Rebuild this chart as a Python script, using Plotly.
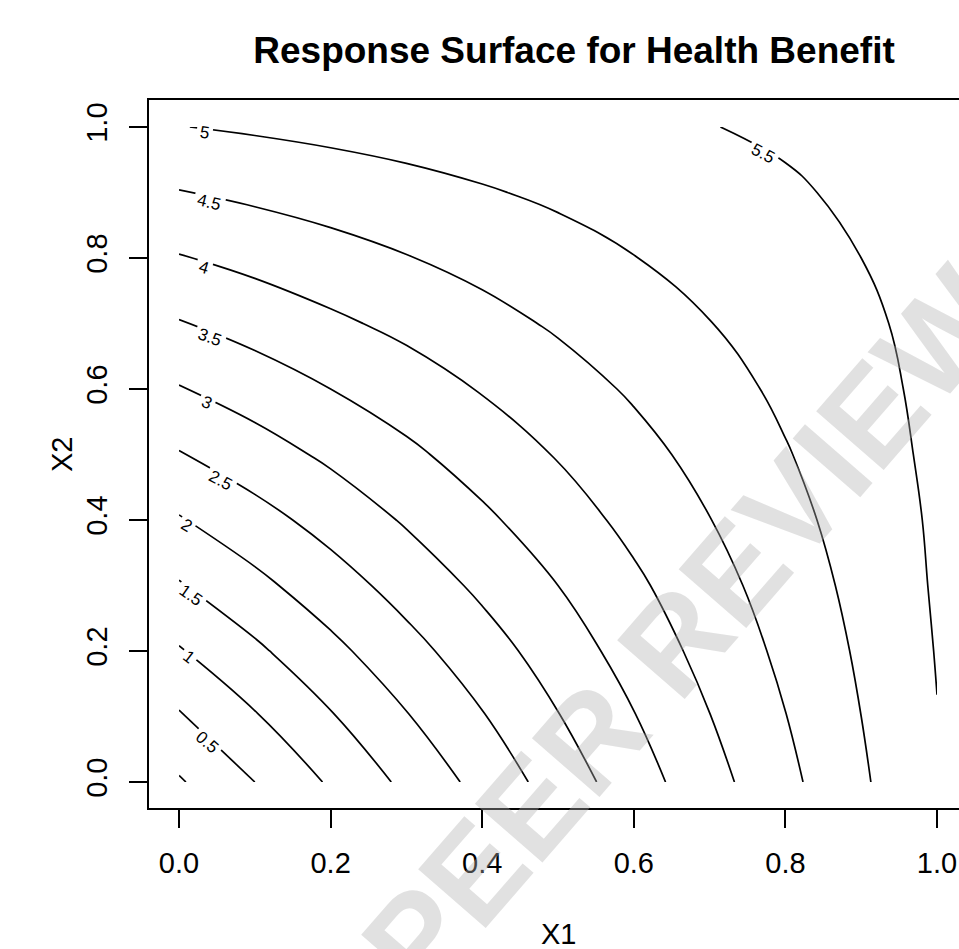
import plotly.graph_objects as go

# grid coordinates (X1 across, X2 down the rows)
x1_vals = [0.0, 0.1, 0.2, 0.3, 0.4, 0.5, 0.6, 0.7, 0.8, 0.9, 1.0]
x2_vals = [0.0, 0.1, 0.2, 0.3, 0.4, 0.5, 0.6, 0.7, 0.8, 0.9, 1.0]

# estimated response (Health Benefit); one row per X2 value
z_x2_00 = [-0.05, 0.50, 1.06, 1.61, 2.16, 2.72, 3.27, 3.82, 4.37, 4.93, 5.48]
z_x2_01 = [0.45, 0.96, 1.46, 1.97, 2.47, 2.98, 3.48, 3.99, 4.49, 5.00, 5.49]
z_x2_02 = [0.96, 1.41, 1.87, 2.33, 2.78, 3.24, 3.70, 4.16, 4.61, 5.07, 5.52]
z_x2_03 = [1.46, 1.87, 2.28, 2.69, 3.10, 3.50, 3.91, 4.32, 4.73, 5.14, 5.55]
z_x2_04 = [1.96, 2.32, 2.68, 3.05, 3.41, 3.77, 4.13, 4.49, 4.85, 5.21, 5.57]
z_x2_05 = [2.47, 2.78, 3.09, 3.40, 3.72, 4.03, 4.34, 4.66, 4.97, 5.28, 5.60]
z_x2_06 = [2.97, 3.23, 3.50, 3.76, 4.03, 4.29, 4.56, 4.82, 5.09, 5.35, 5.62]
z_x2_07 = [3.47, 3.69, 3.91, 4.12, 4.34, 4.56, 4.77, 4.99, 5.21, 5.42, 5.64]
z_x2_08 = [3.97, 4.14, 4.31, 4.48, 4.65, 4.82, 4.99, 5.16, 5.33, 5.50, 5.66]
z_x2_09 = [4.48, 4.60, 4.72, 4.84, 4.96, 5.08, 5.20, 5.32, 5.45, 5.57, 5.69]
z_x2_10 = [4.99, 5.06, 5.13, 5.20, 5.27, 5.35, 5.42, 5.49, 5.56, 5.64, 5.71]

# contour levels that carry an in-line label
label_levels = ["5", "4.5", "4", "3.5", "3", "2.5", "2", "1.5", "1", "0.5", "5.5"]

tick_vals = [0.0, 0.2, 0.4, 0.6, 0.8, 1.0]
tick_text = ["0.0", "0.2", "0.4", "0.6", "0.8", "1.0"]

title_text = "Response Surface for Health Benefit"
x_title = "X1"
y_title = "X2"
watermark_text = "PEER REVIEW"

z_grid = [z_x2_00, z_x2_01, z_x2_02, z_x2_03, z_x2_04, z_x2_05,
          z_x2_06, z_x2_07, z_x2_08, z_x2_09, z_x2_10]

# where each label sits on its line (R puts them near the line start), and its tilt
label_pos = [(0.033, 0.991, 8), (0.040, 0.884, 14), (0.032, 0.785, 17), (0.041, 0.679, 20),
             (0.036, 0.579, 24), (0.055, 0.461, 28), (0.010, 0.392, 31), (0.016, 0.285, 35),
             (0.012, 0.191, 38), (0.037, 0.060, 41), (0.770, 0.959, 28)]

FONT = "Liberation Sans, Arial, Helvetica, sans-serif"

fig = go.Figure()
fig.add_trace(go.Contour(
    x=x1_vals, y=x2_vals, z=z_grid,
    contours=dict(start=0, end=5.5, size=0.5, coloring="lines", showlabels=False),
    colorscale=[[0, "black"], [1, "black"]],
    showscale=False,
    line=dict(width=1.7, smoothing=1.2),
    hoverinfo="skip",
))

W, H = 959, 949
L, R, T, B = 149, 0, 100, 141
PW, PH = W - L - R, H - T - B

axis_common = dict(
    showgrid=False, zeroline=False, showline=True, linecolor="black", linewidth=2,
    ticks="outside", ticklen=18, tickwidth=2, tickcolor="black",
    tickvals=tick_vals, ticktext=tick_text,
    tickfont=dict(family=FONT, size=29, color="black"),
)

annotations = []
# watermark first so the labels sit over it
annotations.append(dict(
    text="<b>" + watermark_text + "</b>", xref="paper", yref="paper",
    x=(685 - L) / PW, y=(808 - 630) / PH,
    showarrow=False, textangle=-49,
    font=dict(family=FONT, size=130, color="rgba(175,175,175,0.38)"),
    xanchor="center", yanchor="middle"))

for lev, (lx, ly, ang) in zip(label_levels, label_pos):
    annotations.append(dict(
        text=lev, x=lx, y=ly, xref="x", yref="y", showarrow=False,
        textangle=ang, bgcolor="white", borderpad=3,
        font=dict(family=FONT, size=17, color="black"),
        xanchor="center", yanchor="middle"))

annotations.append(dict(text=x_title, xref="paper", yref="paper",
                        x=(558 - L) / PW, y=(808 - 934) / PH,
                        showarrow=False, font=dict(family=FONT, size=29, color="black"),
                        xanchor="center", yanchor="middle"))
annotations.append(dict(text=y_title, xref="paper", yref="paper",
                        x=(62 - L) / PW, y=(808 - 455) / PH,
                        showarrow=False, textangle=-90,
                        font=dict(family=FONT, size=29, color="black"),
                        xanchor="center", yanchor="middle"))

fig.update_layout(
    width=W, height=H,
    margin=dict(l=L, r=R, t=T, b=B, pad=0),
    paper_bgcolor="white", plot_bgcolor="white",
    showlegend=False,
    title=dict(text="<b>" + title_text + "</b>", x=574 / W, xanchor="center",
               y=1 - 50 / H, yanchor="middle",
               font=dict(family=FONT, size=37, color="black")),
    xaxis=dict(range=[-0.0396, 1.029], mirror=True, ticklabelstandoff=10, **axis_common),
    yaxis=dict(range=[-0.0397, 1.0412], mirror=False, tickangle=-90,
               ticklabelstandoff=10, **axis_common),
    annotations=annotations,
)

fig.write_html("out.html")
